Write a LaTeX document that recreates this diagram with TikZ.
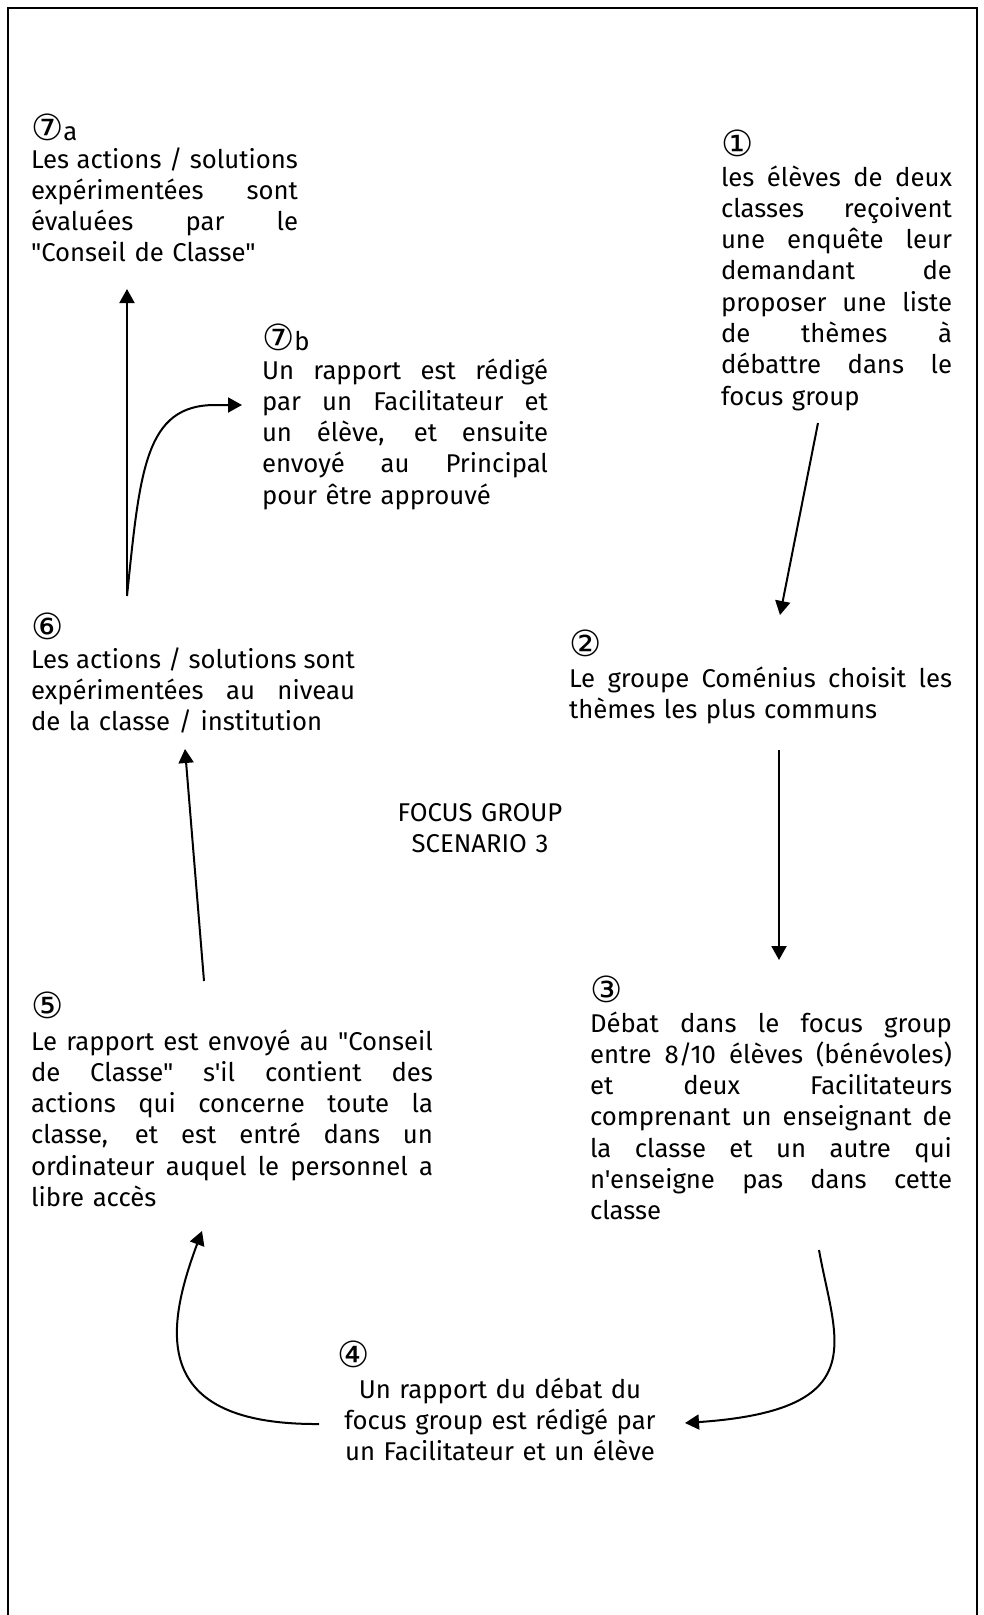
\documentclass[tikz,border=0pt]{standalone}
\usepackage{fontspec}
\usetikzlibrary{arrows.meta}
\newfontfamily\mainff{Fira Sans}
\newfontfamily\circff{DejaVu Sans}
\newcommand{\jl}[1]{\leavevmode\hbox to \linewidth{\spaceskip=\fontdimen2\font plus 1fil\relax #1}}
\newcommand{\cn}[1]{{\circff\fontsize{36}{36}\selectfont #1}}
\begin{document}
\begin{tikzpicture}[x=1pt,y=-1pt,
  txt/.style={font=\mainff\fontsize{25.7}{31.3}\selectfont, inner sep=0pt, outer sep=0pt, anchor=base west, align=left},
  num/.style={font=\mainff\fontsize{25.7}{31.3}\selectfont, inner sep=0pt, outer sep=0pt, anchor=base west},
  arr/.style={line width=2pt, -{Triangle[length=14pt,width=15pt]}},
  frame/.style={line width=2.2pt}]
\useasboundingbox (0,0) rectangle (984,1615);
\draw[frame] (8,1616) -- (8,8) -- (977,8) -- (977,1616);

% 7a
\node[num] (c7a) at (31,140) {\cn{⑦}a};
\node[txt, text width=267pt] (t7a) at (31,168) {\jl{Les actions / solutions}\\ \jl{expérimentées sont}\\ \jl{évaluées par le}\\ "Conseil de Classe"};
% 7b
\node[num] (c7b) at (262,350) {\cn{⑦}b};
\node[txt, text width=286pt] (t7b) at (262,379) {\jl{Un rapport est rédigé}\\ \jl{par un Facilitateur et}\\ \jl{un élève, et ensuite}\\ \jl{envoyé au Principal}\\ pour être approuvé};
% 1
\node[num] (c1) at (721,156) {\cn{①}};
\node[txt, text width=231pt] (t1) at (721,186) {\jl{les élèves de deux}\\ \jl{classes reçoivent}\\ \jl{une enquête leur}\\ \jl{demandant de}\\ \jl{proposer une liste}\\ \jl{de thèmes à}\\ \jl{débattre dans le}\\ focus group};
% 6
\node[num] (c6) at (31,639) {\cn{⑥}};
\node[txt, text width=324pt] (t6) at (31,668) {\jl{Les actions / solutions sont}\\ \jl{expérimentées au niveau}\\ de la classe / institution};
% 2
\node[num] (c2) at (569,656) {\cn{②}};
\node[txt, text width=383pt] (t2) at (569,687) {\jl{Le groupe Coménius choisit les}\\ thèmes les plus communs};
% title
\node[txt, text width=220pt, align=center, anchor=base] (title) at (480,821) {FOCUS GROUP\\ SCENARIO 3};
% 3
\node[num] (c3) at (590,1002) {\cn{③}};
\node[txt, text width=362pt] (t3) at (590,1032) {\jl{Débat dans le focus group}\\ \jl{entre 8/10 élèves (bénévoles)}\\ \jl{et deux Facilitateurs}\\ \jl{comprenant un enseignant de}\\ \jl{la classe et un autre qui}\\ \jl{n'enseigne pas dans cette}\\ classe};
% 5
\node[num] (c5) at (31,1018) {\cn{⑤}};
\node[txt, text width=402pt] (t5) at (31,1050) {\jl{Le rapport est envoyé au "Conseil}\\ \jl{de Classe" s'il contient des}\\ \jl{actions qui concerne toute la}\\ \jl{classe, et est entré dans un}\\ \jl{ordinateur auquel le personnel a}\\ libre accès};
% 4
\node[num] (c4) at (337,1367) {\cn{④}};
\node[txt, text width=330pt, align=center, anchor=base] (t4) at (500,1398) {Un rapport du débat du\\ focus group est rédigé par\\ un Facilitateur et un élève};

% connector end points
\coordinate (a1s) at (818,423);
\coordinate (a1e) at (780,615);
\coordinate (a2s) at (779,750);
\coordinate (a2e) at (779,960);
\coordinate (a3s) at (819,1250);
\coordinate (a3e) at (685,1423);
\coordinate (a4s) at (319,1424);
\coordinate (a4e) at (202,1231);
\coordinate (a5s) at (204,981);
\coordinate (a5e) at (185,749);
\coordinate (a6s) at (127,596);
\coordinate (a6e) at (127,289);
\coordinate (a7m) at (215,405);
\coordinate (a7e) at (242,405);

\draw[arr] (a1s) -- (a1e);
\draw[arr] (a2s) -- (a2e);
\draw[arr] (a3s) .. controls (835,1340) and (875,1410) .. (a3e);
\draw[arr] (a4s) .. controls (150,1425) and (165,1330) .. (a4e);
\draw[arr] (a5s) -- (a5e);
\draw[arr] (a6s) -- (a6e);
\draw[arr] (a6s) .. controls (140,470) and (145,405) .. (a7m) -- (a7e);
\end{tikzpicture}
\end{document}
